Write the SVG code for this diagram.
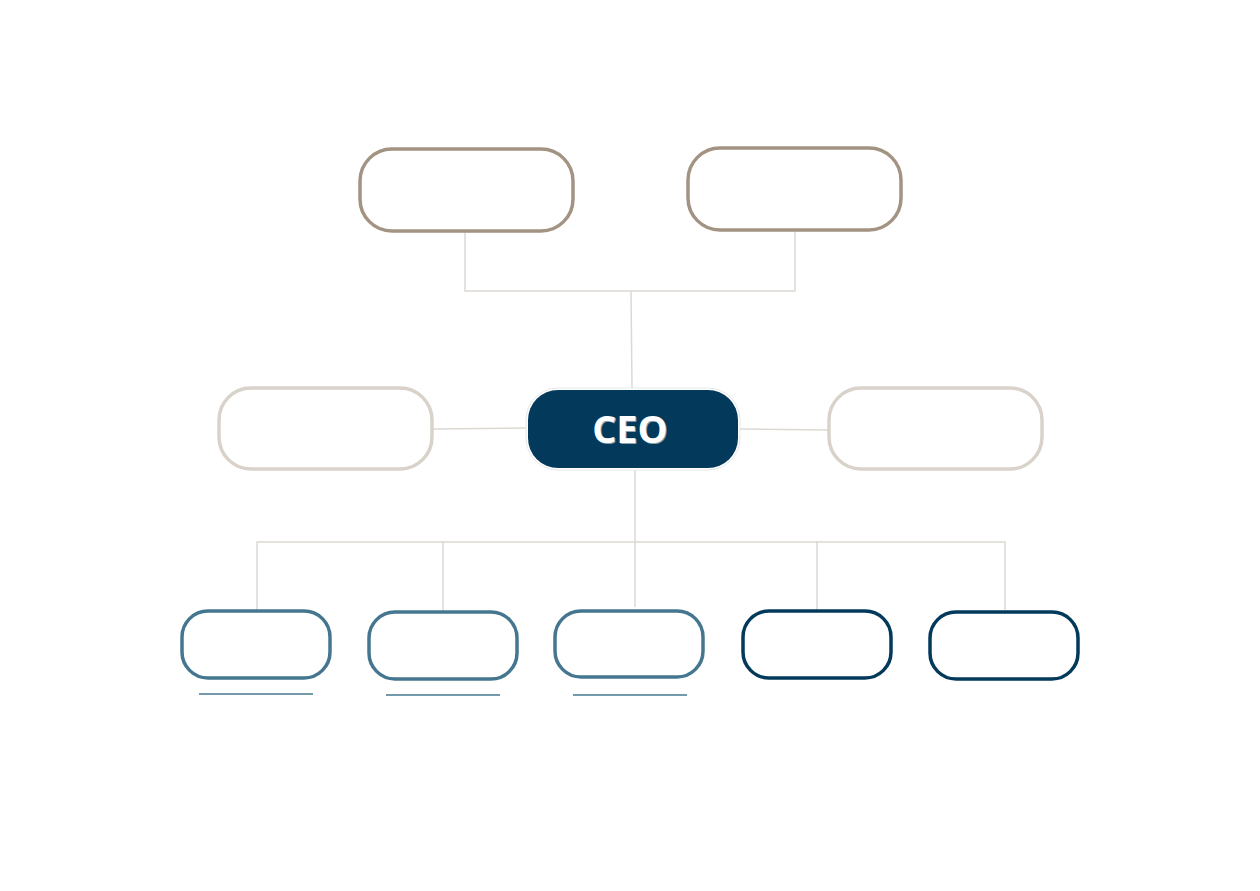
<svg xmlns="http://www.w3.org/2000/svg" width="1260" height="891" viewBox="0 0 1260 891">
<style>
.conn{fill:none;stroke:#ddd8d2;stroke-width:1.5}
.top{fill:#fff;stroke:#a39383;stroke-width:3.5}
.side{fill:#fff;stroke:#d8d2ca;stroke-width:3.5}
.light{fill:#fff;stroke:#44778f;stroke-width:3.5}
.dark{fill:#fff;stroke:#033a5c;stroke-width:3.5}
.ul{stroke:#44778f;stroke-width:1.5}
.ceo{font-family:"Open Sans","Noto Sans",sans-serif;font-weight:bold;font-size:38px;fill:#fff;text-anchor:middle}
</style>
<rect width="1260" height="891" fill="#fff"/>
<g id="connectors">
<path class="conn" d="M465,232 V291 H795 V231"/>
<path class="conn" d="M631,291 L632,388"/>
<path class="conn" d="M433,429 L527,428"/>
<path class="conn" d="M739,429 L829,430"/>
<path class="conn" d="M635,470 V607"/>
<path class="conn" d="M257,610 V542 H1005 V610"/>
<path class="conn" d="M443,541 V612"/>
<path class="conn" d="M817,541 V610"/>
</g>
<g id="top-left"><rect class="top" x="360" y="149" width="213" height="82" rx="32"/></g>
<g id="top-right"><rect class="top" x="688" y="148" width="213" height="82" rx="32"/></g>
<g id="side-left"><rect class="side" x="219" y="388" width="213" height="81" rx="32"/></g>
<g id="side-right"><rect class="side" x="829" y="388" width="213" height="81" rx="32"/></g>
<g id="ceo">
<rect x="526" y="388" width="214" height="82" rx="32" fill="#fff" stroke="#e4e8ec" stroke-width="1"/>
<rect x="528" y="390" width="210" height="78" rx="30" fill="#033a5c"/>
<text class="ceo" x="630" y="443" fill="#9aa7b0" dx="1" dy="1" style="fill:#8fa0ad">CEO</text>
<text class="ceo" x="630" y="443">CEO</text>
</g>
<g id="b1"><rect class="light" x="182" y="611" width="148" height="67" rx="26"/><line class="ul" x1="199" y1="694" x2="313" y2="694"/></g>
<g id="b2"><rect class="light" x="369" y="612" width="148" height="67" rx="26"/><line class="ul" x1="386" y1="695" x2="500" y2="695"/></g>
<g id="b3"><rect class="light" x="555" y="611" width="148" height="66" rx="26"/><line class="ul" x1="573" y1="695" x2="687" y2="695"/></g>
<g id="b4"><rect class="dark" x="743" y="611" width="148" height="67" rx="26"/></g>
<g id="b5"><rect class="dark" x="930" y="612" width="148" height="67" rx="26"/></g>
</svg>
